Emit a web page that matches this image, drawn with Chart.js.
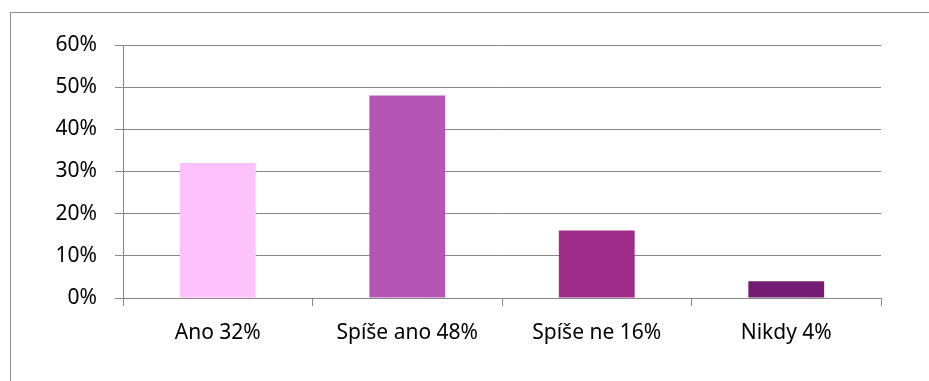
<!DOCTYPE html>
<html>
<head>
<meta charset="utf-8">
<script src="https://cdn.jsdelivr.net/npm/chart.js@4"></script>
<style>
    html, body { margin: 0; padding: 0; background: #fff; }
    #wrap { position: relative; width: 929px; height: 381px; }
    #frame { position: absolute; left: 10px; top: 12px; width: 930px; height: 380px; border: 1px solid #8e8e8e; box-sizing: border-box; }
</style>
</head>
<body>
<div id="wrap">
    <div id="frame"></div>
    <canvas id="graf" width="929" height="381"></canvas>
</div>
<script>
const kategorie = ['Ano 32%', 'Spíše ano 48%', 'Spíše ne 16%', 'Nikdy 4%'];
const hodnoty = [32, 48, 16, 4];
const barvy = ['#FDC1FC', '#B556B5', '#9E2B88', '#741C74'];
const osaY = [0, 10, 20, 30, 40, 50, 60];

const ctx = document.getElementById('graf').getContext('2d');
new Chart(ctx, {
    type: 'bar',
    data: {
        labels: kategorie,
        datasets: [{
            data: hodnoty,
            backgroundColor: barvy,
            borderWidth: 0,
            barPercentage: 0.4,
            categoryPercentage: 1
        }]
    },
    options: {
        responsive: false,
        animation: false,
        layout: { padding: { top: 45, right: 48, bottom: 0, left: 0 } },
        plugins: { legend: { display: false }, tooltip: { enabled: false } },
        scales: {
            x: {
                afterFit: scale => { scale.height = 83; },
                grid: { drawOnChartArea: false, offset: true, tickLength: 8, color: '#868686', lineWidth: 1 },
                border: { color: '#868686', width: 1 },
                ticks: {
                    color: '#000',
                    padding: 14,
                    font: { family: 'Noto Sans', size: 21 }
                }
            },
            y: {
                min: 0,
                max: 60,
                afterFit: scale => { scale.width = 123; },
                afterBuildTicks: scale => { scale.ticks = osaY.map(v => ({ value: v })); },
                grid: { color: '#868686', lineWidth: 1, tickLength: 8 },
                border: { color: '#868686', width: 1 },
                ticks: {
                    color: '#000',
                    padding: 18,
                    font: { family: 'Noto Sans', size: 21 },
                    callback: v => v + '%'
                }
            }
        }
    }
});
</script>
</body>
</html>
